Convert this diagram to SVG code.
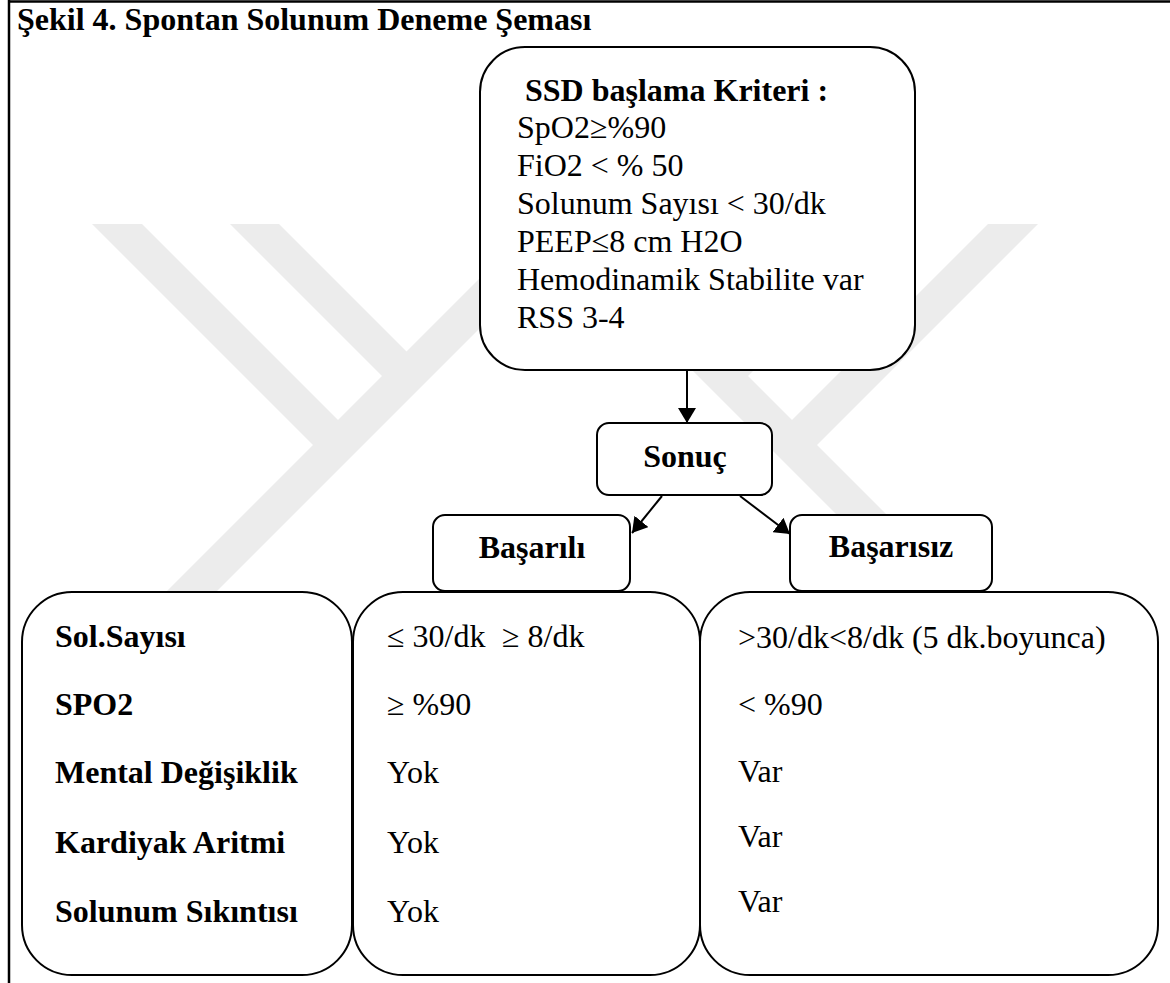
<svg xmlns="http://www.w3.org/2000/svg" width="1170" height="983" viewBox="0 0 1170 983">
<style>
  .box { fill: #ffffff; stroke: #000000; stroke-width: 2; }
  .b { font-family: "Liberation Serif", "Times New Roman", serif; font-weight: bold; font-size: 32px; fill: #000; }
  .r { font-family: "Liberation Serif", "Times New Roman", serif; font-size: 32px; fill: #000; }
  .wm { fill: #ececec; stroke: none; }
  .edge { stroke: #000; stroke-width: 2; fill: none; marker-end: url(#arr); }
</style>
<defs>
  <marker id="arr" markerUnits="userSpaceOnUse" markerWidth="16" markerHeight="18" refX="15" refY="9" orient="auto">
    <path d="M0,0 L15,9 L0,18 z" fill="#000"/>
  </marker>
</defs>
<rect x="0" y="0" width="1170" height="983" fill="#ffffff"/>
<g id="watermark">
  <polygon class="wm" points="92,224 142,224 350.5,432.5 325.5,457.5"/>
  <polygon class="wm" points="230,224 279,224 419,364 394.5,388.5"/>
  <polygon class="wm" points="534,224 584,224 208,600 158,600"/>
  <polygon class="wm" points="1038,224 988,224 779.5,432.5 804.5,457.5"/>
  <polygon class="wm" points="900,224 851,224 711,364 735.5,388.5"/>
  <polygon class="wm" points="596,224 546,224 922,600 972,600"/>
</g>
<g id="frame">
  <line x1="9" y1="0" x2="9" y2="983" stroke="#000" stroke-width="2.5"/>
  <line x1="8" y1="1.5" x2="1170" y2="1.5" stroke="#000" stroke-width="2.5"/>
  <text class="b" x="17" y="30">Şekil 4. Spontan Solunum Deneme Şeması</text>
</g>
<g id="connectors">
  <line class="edge" x1="687" y1="370" x2="687" y2="423"/>
  <line class="edge" x1="662" y1="496" x2="632" y2="533"/>
  <line class="edge" x1="740" y1="496" x2="790" y2="534"/>
</g>
<g id="criteria">
  <rect class="box" x="480" y="47" width="435" height="323" rx="45" ry="45"/>
  <text class="b" x="525" y="101">SSD başlama Kriteri :</text>
  <text class="r" x="517" y="138">SpO2≥%90</text>
  <text class="r" x="517" y="176">FiO2 &lt; % 50</text>
  <text class="r" x="517" y="214">Solunum Sayısı &lt; 30/dk</text>
  <text class="r" x="517" y="252">PEEP≤8 cm H2O</text>
  <text class="r" x="517" y="290">Hemodinamik Stabilite var</text>
  <text class="r" x="517" y="328">RSS 3-4</text>
</g>
<g id="sonuc">
  <rect class="box" x="597" y="423" width="175" height="72" rx="12" ry="12"/>
  <text class="b" x="685" y="467" text-anchor="middle">Sonuç</text>
</g>
<g id="basarili">
  <rect class="box" x="433" y="515" width="197" height="76" rx="12" ry="12"/>
  <text class="b" x="532" y="558" text-anchor="middle">Başarılı</text>
</g>
<g id="basarisiz">
  <rect class="box" x="790" y="515" width="202" height="76" rx="12" ry="12"/>
  <text class="b" x="891" y="557" text-anchor="middle">Başarısız</text>
</g>
<g id="parameters">
  <rect class="box" x="22" y="592" width="330" height="383" rx="50" ry="50"/>
  <text class="b" x="55" y="647">Sol.Sayısı</text>
  <text class="b" x="55" y="715">SPO2</text>
  <text class="b" x="55" y="783">Mental Değişiklik</text>
  <text class="b" x="55" y="853">Kardiyak Aritmi</text>
  <text class="b" x="55" y="922">Solunum Sıkıntısı</text>
</g>
<g id="success-values">
  <rect class="box" x="353" y="592" width="347" height="383" rx="50" ry="50"/>
  <text class="r" x="387" y="647">≤ 30/dk</text>
  <text class="r" x="502" y="647">≥ 8/dk</text>
  <text class="r" x="387" y="715">≥ %90</text>
  <text class="r" x="387" y="783">Yok</text>
  <text class="r" x="387" y="853">Yok</text>
  <text class="r" x="387" y="922">Yok</text>
</g>
<g id="failure-values">
  <rect class="box" x="700" y="592" width="458" height="383" rx="50" ry="50"/>
  <text class="r" x="738" y="648">&gt;30/dk&lt;8/dk (5 dk.boyunca)</text>
  <text class="r" x="738" y="715">&lt; %90</text>
  <text class="r" x="738" y="782">Var</text>
  <text class="r" x="738" y="847">Var</text>
  <text class="r" x="738" y="912">Var</text>
</g>
</svg>
